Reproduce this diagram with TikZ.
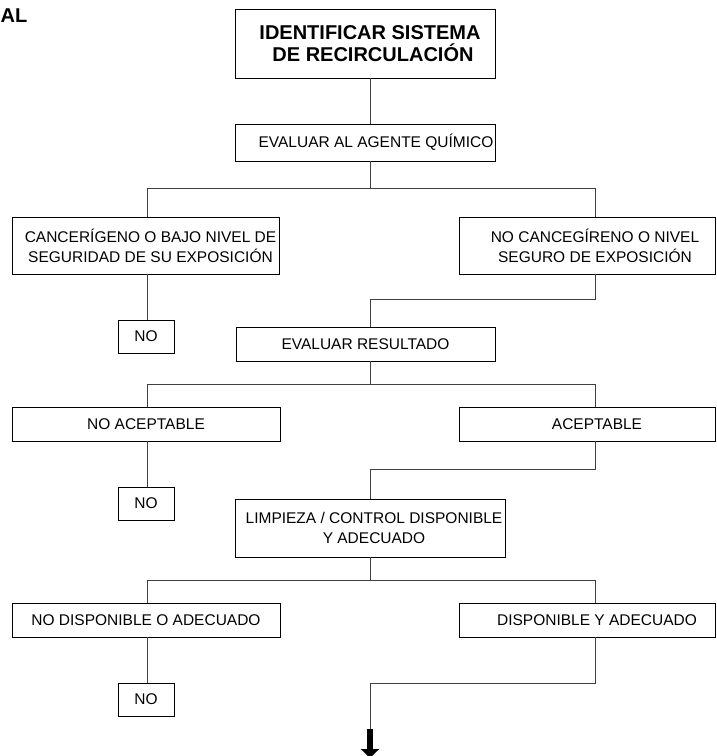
\documentclass[tikz,border=0pt]{standalone}
\usepackage{fontspec}
\setmainfont{Liberation Sans}
\usetikzlibrary{positioning, calc, arrows.meta}

\tikzset{
  box/.style={draw, line width=0.8pt, inner sep=0pt, align=center, font=\fontsize{15.5}{20}\selectfont},
  nobox/.style={box, minimum width=56pt, minimum height=33pt},
  link/.style={line width=0.9pt, draw=black!75}
}
% push a line of text to the right inside its box
\newcommand{\pushr}[1]{\hspace*{#1}}

\begin{document}
\begin{tikzpicture}[x=1pt, y=-1pt]
			\useasboundingbox (0,0) rectangle (716,756);
			\coordinate (trunk) at (370,0);
			\coordinate (lft) at (147,0);
			\coordinate (rgt) at (595,0);

			\node (tag) [anchor=base west, inner sep=0pt, font=\bfseries\fontsize{20}{24}\selectfont] at (0.5,22) {AL};
			\node (ident) [box, minimum width=260pt, minimum height=69pt, font=\bfseries\fontsize{20}{22}\selectfont] at (365,43.5) {\pushr{10pt}IDENTIFICAR SISTEMA\\\pushr{16pt}DE RECIRCULACIÓN};
			\node (evalag) [box, minimum width=260pt, minimum height=37pt] at (365,142.5) {\pushr{22pt}EVALUAR AL AGENTE QUÍMICO};

			\node (canc) [box, minimum width=267pt, minimum height=57pt] at (145.5,245.5) {\pushr{10pt}CANCERÍGENO O BAJO NIVEL DE\\\pushr{10pt}SEGURIDAD DE SU EXPOSICIÓN};
			\node (nocanc) [box, minimum width=256pt, minimum height=57pt] at (587,245.5) {\pushr{16pt}NO CANCEGÍRENO O NIVEL\\\pushr{16pt}SEGURO DE EXPOSICIÓN};
			\node (no1) [nobox] at (146,336.5) {NO};
			\node (evalres) [box, minimum width=259pt, minimum height=34pt] at (365.5,344) {EVALUAR RESULTADO};

			\node (noacep) [box, minimum width=268pt, minimum height=34pt] at (146,424) {NO ACEPTABLE};
			\node (acep) [box, minimum width=256pt, minimum height=34pt] at (587,424) {\pushr{20pt}ACEPTABLE};
			\node (no2) [nobox] at (146,503.5) {NO};
			\node (limp) [box, minimum width=270pt, minimum height=58pt] at (370,528) {\pushr{8pt}LIMPIEZA / CONTROL DISPONIBLE\\\pushr{8pt}Y ADECUADO};

			\node (nodisp) [box, minimum width=268pt, minimum height=34pt] at (146,620) {NO DISPONIBLE O ADECUADO};
			\node (disp) [box, minimum width=256pt, minimum height=34pt] at (587,620) {\pushr{20pt}DISPONIBLE Y ADECUADO};
			\node (no3) [nobox] at (146,699.5) {NO};

			% splits and joins
			\coordinate (s1) at (370,188);
			\coordinate (s2) at (370,384);
			\coordinate (s3) at (370,580);
			\coordinate (j1) at (370,299);
			\coordinate (j2) at (370,469);
			\coordinate (j3) at (370,683);
			\coordinate (tip) at (370,729);

			\draw [link] (ident.south -| trunk) -- (evalag.north -| trunk);
			\draw [link] (evalag.south -| trunk) -- (s1);
			\draw [link] (canc.north -| lft) -- (s1 -| lft) -- (s1 -| rgt) -- (nocanc.north -| rgt);
			\draw [link] (canc.south -| lft) -- (no1.north -| lft);
			\draw [link] (nocanc.south -| rgt) |- (j1) -- (evalres.north -| trunk);

			\draw [link] (evalres.south -| trunk) -- (s2);
			\draw [link] (noacep.north -| lft) -- (s2 -| lft) -- (s2 -| rgt) -- (acep.north -| rgt);
			\draw [link] (noacep.south -| lft) -- (no2.north -| lft);
			\draw [link] (acep.south -| rgt) |- (j2) -- (limp.north -| trunk);

			\draw [link] (limp.south -| trunk) -- (s3);
			\draw [link] (nodisp.north -| lft) -- (s3 -| lft) -- (s3 -| rgt) -- (disp.north -| rgt);
			\draw [link] (nodisp.south -| lft) -- (no3.north -| lft);
			\draw [link] (disp.south -| rgt) |- (j3) -- (tip);
			\draw [line width=6.5pt, -{Triangle[width=18pt, length=9pt]}] (tip) -- ++(0,29);
\end{tikzpicture}
\end{document}
